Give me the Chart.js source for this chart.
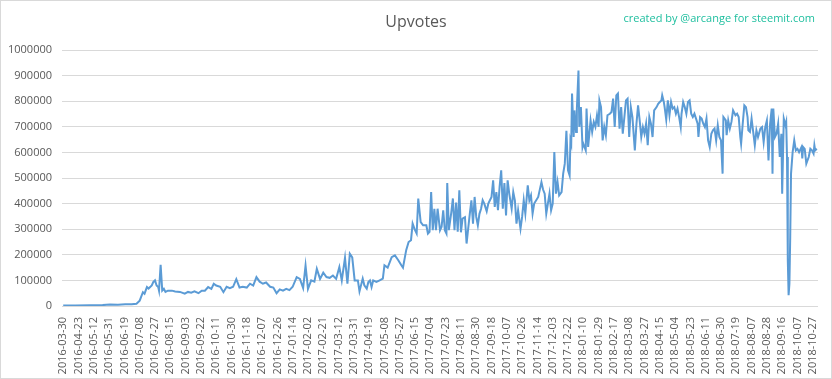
<!DOCTYPE html>
<html><head><meta charset="utf-8">
<script src="https://cdn.jsdelivr.net/npm/chart.js@4/dist/chart.umd.min.js"></script>
<style>html,body{margin:0;padding:0;background:#fff}canvas{display:block}</style>
</head><body>
<canvas id="c" width="832" height="379"></canvas>
<script>
const chartTitle = 'Upvotes';
const creditText = 'created by @arcange for steemit.com';
const tickLabels = ['2016-03-30','2016-04-23','2016-05-12','2016-05-31','2016-06-19','2016-07-08','2016-07-27','2016-08-15','2016-09-03','2016-09-22','2016-10-11','2016-10-30','2016-11-18','2016-12-07','2016-12-26','2017-01-14','2017-02-02','2017-02-21','2017-03-12','2017-03-31','2017-04-19','2017-05-08','2017-05-27','2017-06-15','2017-07-04','2017-07-23','2017-08-11','2017-08-30','2017-09-18','2017-10-07','2017-10-26','2017-11-14','2017-12-03','2017-12-22','2018-01-10','2018-01-29','2018-02-17','2018-03-08','2018-03-27','2018-04-15','2018-05-04','2018-05-23','2018-06-11','2018-06-30','2018-07-19','2018-08-07','2018-08-28','2018-09-16','2018-10-07','2018-10-27'];
const tickStep = 19;
const dayCount = 937;
const dayIndex = [0,15,33,49,58,68,77,85,91,95,99,101,104,106,108,110,112,114,116,118,119,121,123,125,127,130,135,139,145,151,155,159,163,168,172,176,180,184,187,190,
195,199,203,207,211,215,219,223,228,232,236,240,244,248,252,257,261,265,269,273,277,281,285,290,294,298,301,304,308,312,315,319,323,327,331,335,339,343,346,350,353,356,359,362,366,368,372,374,377,379,381,383,385,389,393,397,399,403,408,412,416,420,422,426,429,432,434,437,439,441,444,447,451,453,455,457,459,461,463,465,468,470,472,474,476,477,479,482,484,486,488,490,492,494,496,499,501,503,505,507,509,511,513,515,517,519,521,523,526,528,530,532,534,536,538,540,542,544,546,548,550,552,554,557,559,561,563,565,568,570,572,574,577,579,581,583,585,590,594,596,598,600,602,604,606,608,610,612,614,616,619,621,623,625,627,629,630,631,632,634,635,637,638,640,641,643,645,646,649,650,652,655,657,659,661,663,665,666,668,670,672,674,676,679,681,683,685,687,689,691,693,695,697,699,701,703,705,707,710,712,714,716,718,720,722,724,726,728,730,732,734,737,739,741,743,744,746,747,749,751,753,755,757,759,761,763,765,767,768,770,772,774,776,778,780,782,784,786,788,789,791,793,795,797,799,801,803,805,807,809,811,813,815,817,819,820,823,824,826,828,830,832,835,837,839,841,842,844,846,848,850,851,853,855,857,859,861,863,866,868,870,872,874,876,878,880,881,882,884,886,888,890,892,893,895,897,898,899,900,901,902,903,904,906,908,910,912,914,917,918,919,921,923,926,928,930,932,933,934,936];
const upvotes = [1500,2000,2500,3500,6000,5000,7000,6500,9000,21000,54000,48000,74000,68000,74000,80000,94000,100000,80000,74000,60000,161000,60000,67000,55000,60000,60000,57000,55000,48000,55000,52000,57000,50000,60000,60000,74000,67000,87000,80000,
75000,54000,75000,70000,75000,105000,72000,75000,72000,87000,80000,113000,95000,87000,92000,75000,72000,50000,65000,60000,67000,62000,75000,113000,106000,70000,158000,67000,100000,95000,145000,106000,130000,113000,110000,119000,106000,152000,100000,188000,87000,204000,190000,100000,100000,57000,107000,81000,68000,94000,100000,74000,100000,94000,100000,107000,159000,150000,191000,198000,180000,159000,150000,218000,250000,257000,322000,296000,283000,420000,328000,315000,315000,283000,290000,445000,296000,380000,296000,380000,296000,310000,374000,296000,283000,480000,296000,365000,420000,296000,404000,290000,452000,288000,341000,347000,244000,302000,360000,413000,322000,426000,348000,315000,360000,380000,413000,400000,370000,400000,413000,426000,491000,387000,445000,374000,465000,530000,380000,480000,354000,491000,439000,380000,445000,413000,322000,374000,302000,348000,413000,361000,471000,413000,432000,361000,400000,426000,484000,455000,439000,361000,400000,439000,374000,400000,601000,439000,484000,432000,445000,517000,556000,684000,530000,510000,647000,634000,830000,660000,764000,680000,771000,920000,700000,777000,621000,634000,608000,771000,621000,725000,680000,719000,700000,745000,700000,803000,777000,647000,700000,667000,745000,751000,758000,810000,699000,823000,830000,693000,777000,673000,738000,803000,810000,660000,777000,738000,608000,712000,784000,725000,660000,699000,673000,712000,628000,738000,712000,660000,764000,777000,790000,797000,803000,823000,797000,777000,728000,803000,745000,797000,771000,777000,751000,771000,738000,699000,751000,797000,777000,751000,797000,803000,751000,738000,751000,732000,712000,660000,738000,732000,712000,699000,732000,647000,621000,673000,686000,693000,647000,706000,660000,647000,517000,738000,725000,667000,725000,693000,719000,764000,745000,751000,738000,660000,634000,712000,784000,777000,738000,686000,680000,732000,680000,628000,686000,660000,693000,699000,641000,699000,725000,569000,712000,771000,517000,771000,660000,673000,712000,582000,673000,439000,732000,706000,719000,582000,178000,42000,87000,270000,517000,601000,647000,608000,614000,601000,621000,576000,621000,614000,556000,582000,614000,608000,595000,628000,608000,614000];
const yMax = 1000000;
const yStep = 100000;

const points = dayIndex.map((d, i) => ({ x: d, y: upvotes[i] }));

const decor = {
  id: 'decor',
  afterDraw(chart) {
    const ctx = chart.ctx;
    ctx.save();
    ctx.strokeStyle = '#d9d9d9';
    ctx.lineWidth = 1;
    ctx.strokeRect(0.5, 0.5, chart.width - 1, chart.height - 1);
    ctx.fillStyle = '#595959';
    ctx.font = '16px "Open Sans"';
    ctx.textAlign = 'center';
    ctx.textBaseline = 'middle';
    ctx.fillText(chartTitle, chart.width / 2, 22);
    ctx.fillStyle = '#1fbf9f';
    ctx.font = '11px "Open Sans"';
    ctx.textAlign = 'right';
    ctx.fillText(creditText, chart.width - 17, 19);
    ctx.restore();
  }
};

new Chart(document.getElementById('c'), {
  type: 'line',
  data: {
    datasets: [{
      data: points,
      borderColor: '#5b9bd5',
      borderWidth: 2,
      pointRadius: 0,
      tension: 0,
      fill: false
    }]
  },
  options: {
    responsive: false,
    animation: false,
    devicePixelRatio: 1,
    layout: { padding: { top: 50, right: 14, bottom: 0, left: 0 } },
    plugins: { legend: { display: false }, title: { display: false }, tooltip: { enabled: false } },
    scales: {
      x: {
        type: 'linear',
        min: -1.5,
        max: dayCount + 0.5,
        grid: { display: false },
        border: { display: false },
        afterBuildTicks: (s) => { s.ticks = tickLabels.map((_, k) => ({ value: k * tickStep })); },
        afterFit: (s) => { s.height = 73; },
        ticks: {
          autoSkip: false,
          maxRotation: 90,
          minRotation: 90,
          padding: 3,
          color: '#595959',
          font: { family: 'Open Sans', size: 11 },
          callback: (v) => tickLabels[Math.round(v / tickStep)]
        }
      },
      y: {
        min: 0,
        max: yMax,
        grid: { color: '#d9d9d9', drawTicks: false },
        border: { display: false },
        afterFit: (s) => { s.width = 62; },
        ticks: {
          stepSize: yStep,
          padding: 10,
          color: '#595959',
          font: { family: 'Open Sans', size: 11 },
          callback: (v) => String(v)
        }
      }
    }
  },
  plugins: [decor]
});
</script>
</body></html>
